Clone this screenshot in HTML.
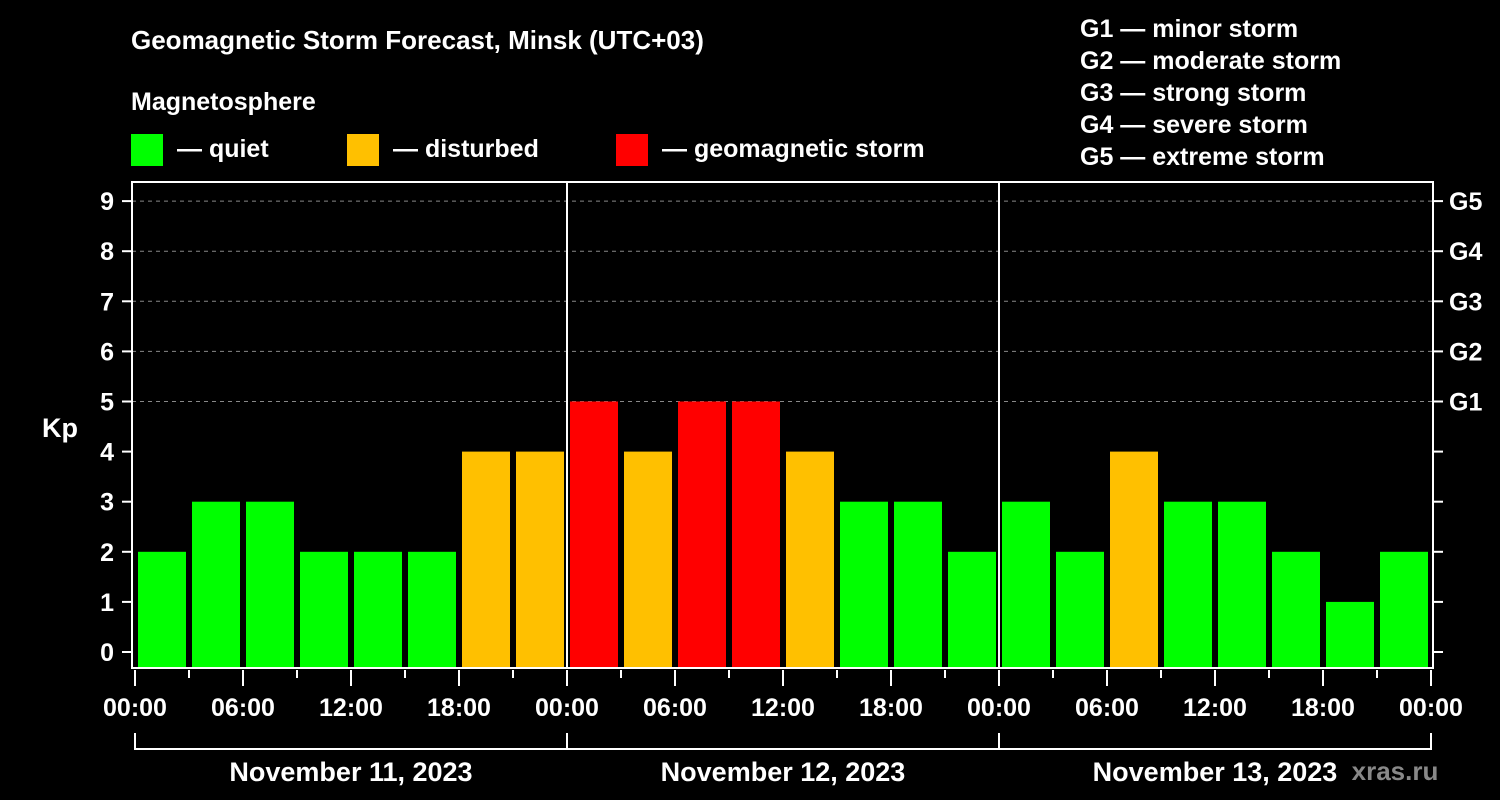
<!DOCTYPE html>
<html><head><meta charset="utf-8"><style>
html,body{margin:0;padding:0;background:#000;}
svg{display:block;font-family:"Liberation Sans",Arial,sans-serif;font-weight:bold;}
</style></head><body>
<svg id="chart" width="1500" height="800" viewBox="0 0 1500 800">
<rect width="1500" height="800" fill="#000"/>
<text x="131" y="49" fill="#fff" font-size="26">Geomagnetic Storm Forecast, Minsk (UTC+03)</text>
<text x="131" y="110" fill="#fff" font-size="25">Magnetosphere</text>
<g><rect x="131" y="134" width="32" height="32" fill="#00ff00"/><text x="177" y="157" fill="#fff" font-size="25">— quiet</text></g>
<g><rect x="347" y="134" width="32" height="32" fill="#ffc000"/><text x="393" y="157" fill="#fff" font-size="25">— disturbed</text></g>
<g><rect x="616" y="134" width="32" height="32" fill="#ff0000"/><text x="662" y="157" fill="#fff" font-size="25">— geomagnetic storm</text></g>
<g fill="#fff" font-size="25">
<text x="1080" y="37">G1 — minor storm</text>
<text x="1080" y="69">G2 — moderate storm</text>
<text x="1080" y="101">G3 — strong storm</text>
<text x="1080" y="133">G4 — severe storm</text>
<text x="1080" y="165">G5 — extreme storm</text>
</g>
<text x="42" y="437" fill="#fff" font-size="27">Kp</text>
<text x="1395" y="780" fill="#888" font-size="26" text-anchor="middle">xras.ru</text>
<g id="grid"></g><g id="bars"></g><g id="axes"></g>
</svg>
<script>
const kpValues = [2,3,3,2,2,2,4,4, 5,4,5,5,4,3,3,2, 3,2,4,3,3,2,1,2];
const dayLabels = ["November 11, 2023","November 12, 2023","November 13, 2023"];
const hourLabels = ["00:00","06:00","12:00","18:00"];
const gLabels = ["G1","G2","G3","G4","G5"];
const NS="http://www.w3.org/2000/svg";
const X0=135, DAYW=432, BARW=54, L=132, R=1433, T=182, B=668;
function y(v){return 652 - v*50.1;}
function x(h){return X0 + h/24*DAYW;}
function mk(tag,attrs,parent){const e=document.createElementNS(NS,tag);for(const k in attrs)e.setAttribute(k,attrs[k]);parent.appendChild(e);return e;}
const grid=document.getElementById('grid'),bars=document.getElementById('bars'),axes=document.getElementById('axes');
for(let k=5;k<=9;k++){
 const l=mk('line',{x1:L,x2:R,y1:y(k),y2:y(k),stroke:'#888','stroke-width':1,'stroke-dasharray':'4,4'},grid);
 
 
}
function color(v){return v>=5?'#ff0000':(v>=4?'#ffc000':'#00ff00');}
kpValues.forEach((v,i)=>{
 const r=mk('rect',{x:x(i*3)+3,y:y(v),width:BARW-6,height:B-1-y(v),fill:color(v)},bars);
 
 
});
const f=mk('rect',{x:L,y:T,width:R-L,height:B-T,fill:'none',stroke:'#fff','stroke-width':2},axes);


for(let d=1;d<dayLabels.length;d++){
 const l=mk('line',{x1:x(d*24),x2:x(d*24),y1:T,y2:B,stroke:'#fff','stroke-width':2},axes);
 
 
}
for(let k=0;k<=9;k++){
 mk('line',{x1:122,x2:L,y1:y(k),y2:y(k),stroke:'#fff','stroke-width':2},axes);
 mk('line',{x1:R,x2:R+10,y1:y(k),y2:y(k),stroke:'#fff','stroke-width':2},axes);
 const t=mk('text',{x:114,y:y(k)+9,fill:'#fff','font-size':25,'text-anchor':'end'},axes);
 t.textContent=k;
 
 
}
gLabels.forEach((g,i)=>{
 const t=mk('text',{x:1449,y:y(5+i)+9,fill:'#fff','font-size':25},axes);
 t.textContent=g;
 
 
});
const nDays=dayLabels.length;
for(let h=0;h<=nDays*24;h+=3){
 const major=h%6===0;
 mk('line',{x1:x(h),x2:x(h),y1:670,y2:major?686:678,stroke:'#fff','stroke-width':2},axes);
 if(major){
  const t=mk('text',{x:x(h),y:716,fill:'#fff','font-size':25,'text-anchor':'middle'},axes);
  t.textContent=hourLabels[(h/6)%4];
  
  
 }
}
mk('line',{x1:x(0),x2:x(nDays*24),y1:749,y2:749,stroke:'#fff','stroke-width':2},axes);
for(let d=0;d<=nDays;d++) mk('line',{x1:x(d*24),x2:x(d*24),y1:733,y2:750,stroke:'#fff','stroke-width':2},axes);
dayLabels.forEach((s,d)=>{
 const t=mk('text',{x:x(d*24+12),y:781,fill:'#fff','font-size':27,'text-anchor':'middle'},axes);
 t.textContent=s;
 
 
});
</script>
</body></html>
